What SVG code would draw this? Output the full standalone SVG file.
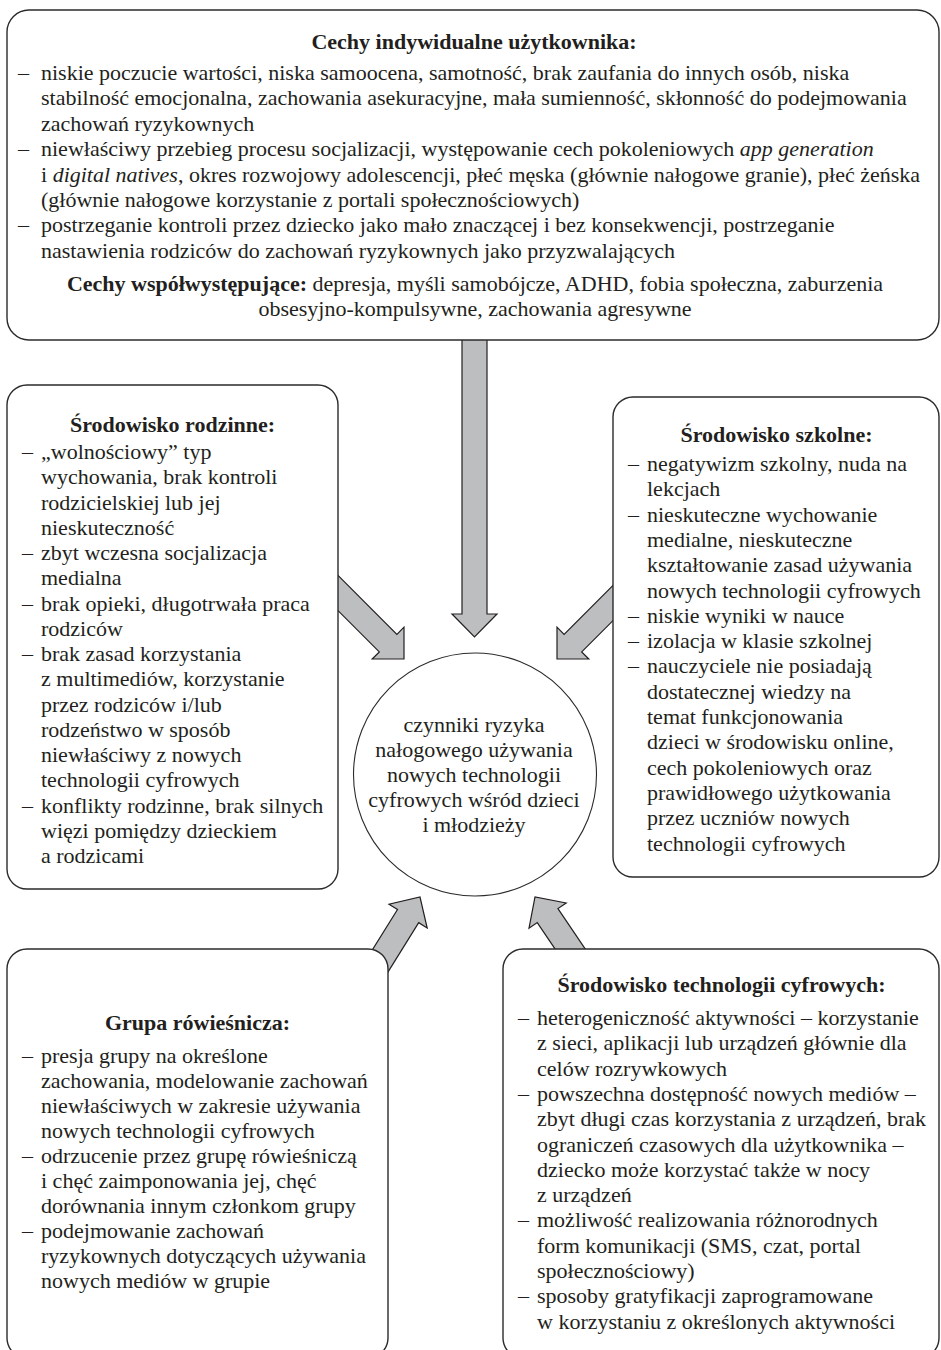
<svg xmlns="http://www.w3.org/2000/svg" width="941" height="1350" viewBox="0 0 941 1350">
<style>
.box{fill:#ffffff;stroke:#2b2b2b;stroke-width:1.4}
.circ{fill:#ffffff;stroke:#2b2b2b;stroke-width:1.1}
.arr{fill:#bcbec0;stroke:#231f20;stroke-width:1.2;stroke-linejoin:miter}
text{font-family:"Liberation Serif","Times New Roman",serif;font-size:22px;fill:#231f20}
.t{font-weight:bold;text-anchor:middle}
.c{text-anchor:middle}
.b{font-weight:bold}
.i{font-style:italic}
</style>
<rect width="941" height="1350" fill="#ffffff"/>
<g id="connectors">
<polygon class="arr" points="462,335 462,614 452,614 474.5,637 497,614 487,614 487,335"/>
<polygon class="arr" points="330,567.4 396.9,634.3 404,627.2 404,659 372.2,659 379.3,651.9 330,602.6"/>
<polygon class="arr" points="625,573.4 564.1,634.3 557,627.2 557,659 588.8,659 581.7,651.9 625,608.6"/>
<polygon class="arr" points="360.5,968.9 397.5,909.5 389,904.2 420,897 427.2,928 418.7,922.7 381.7,982.1"/>
<polygon class="arr" points="591.6,958.3 557.95,908.6 566.2,903 535,897 529,928.2 537.25,922.6 570.9,972.3"/>
</g>
<g id="node-individual">
<rect class="box" x="7" y="10" width="932" height="330" rx="22" ry="22"/>
<text class="t" x="474" y="49">Cechy indywidualne użytkownika:</text>
<text x="18" y="80">–</text><text x="41" y="80">niskie poczucie wartości, niska samoocena, samotność, brak zaufania do innych osób, niska</text>
<text x="41" y="105.4">stabilność emocjonalna, zachowania asekuracyjne, mała sumienność, skłonność do podejmowania</text>
<text x="41" y="130.8">zachowań ryzykownych</text>
<text x="18" y="156.2">–</text><text x="41" y="156.2">niewłaściwy przebieg procesu socjalizacji, występowanie cech pokoleniowych <tspan class="i">app generation</tspan></text>
<text x="41" y="181.6">i <tspan class="i">digital natives</tspan>, okres rozwojowy adolescencji, płeć męska (głównie nałogowe granie), płeć żeńska</text>
<text x="41" y="207">(głównie nałogowe korzystanie z portali społecznościowych)</text>
<text x="18" y="232.4">–</text><text x="41" y="232.4">postrzeganie kontroli przez dziecko jako mało znaczącej i bez konsekwencji, postrzeganie</text>
<text x="41" y="257.8">nastawienia rodziców do zachowań ryzykownych jako przyzwalających</text>
<text class="c" x="475" y="291"><tspan class="b">Cechy współwystępujące:</tspan> depresja, myśli samobójcze, ADHD, fobia społeczna, zaburzenia</text>
<text class="c" x="475" y="316">obsesyjno-kompulsywne, zachowania agresywne</text>
</g>
<g id="node-family">
<rect class="box" x="7" y="385" width="331" height="504" rx="20" ry="20"/>
<text class="t" x="172.5" y="432">Środowisko rodzinne:</text>
<text x="22" y="459">–</text><text x="41" y="459">„wolnościowy” typ</text>
<text x="41" y="484.25">wychowania, brak kontroli</text>
<text x="41" y="509.5">rodzicielskiej lub jej</text>
<text x="41" y="534.75">nieskuteczność</text>
<text x="22" y="560">–</text><text x="41" y="560">zbyt wczesna socjalizacja</text>
<text x="41" y="585.25">medialna</text>
<text x="22" y="610.5">–</text><text x="41" y="610.5">brak opieki, długotrwała praca</text>
<text x="41" y="635.75">rodziców</text>
<text x="22" y="661">–</text><text x="41" y="661">brak zasad korzystania</text>
<text x="41" y="686.25">z multimediów, korzystanie</text>
<text x="41" y="711.5">przez rodziców i/lub</text>
<text x="41" y="736.75">rodzeństwo w sposób</text>
<text x="41" y="762">niewłaściwy z nowych</text>
<text x="41" y="787.25">technologii cyfrowych</text>
<text x="22" y="812.5">–</text><text x="41" y="812.5">konflikty rodzinne, brak silnych</text>
<text x="41" y="837.75">więzi pomiędzy dzieckiem</text>
<text x="41" y="863">a rodzicami</text>
</g>
<g id="node-school">
<rect class="box" x="613" y="397" width="326" height="480" rx="20" ry="20"/>
<text class="t" x="776.5" y="442">Środowisko szkolne:</text>
<text x="628" y="471">–</text><text x="647" y="471">negatywizm szkolny, nuda na</text>
<text x="647" y="496.3">lekcjach</text>
<text x="628" y="521.6">–</text><text x="647" y="521.6">nieskuteczne wychowanie</text>
<text x="647" y="546.9">medialne, nieskuteczne</text>
<text x="647" y="572.2">kształtowanie zasad używania</text>
<text x="647" y="597.5">nowych technologii cyfrowych</text>
<text x="628" y="622.8">–</text><text x="647" y="622.8">niskie wyniki w nauce</text>
<text x="628" y="648.1">–</text><text x="647" y="648.1">izolacja w klasie szkolnej</text>
<text x="628" y="673.4">–</text><text x="647" y="673.4">nauczyciele nie posiadają</text>
<text x="647" y="698.7">dostatecznej wiedzy na</text>
<text x="647" y="724">temat funkcjonowania</text>
<text x="647" y="749.3">dzieci w środowisku online,</text>
<text x="647" y="774.6">cech pokoleniowych oraz</text>
<text x="647" y="799.9">prawidłowego użytkowania</text>
<text x="647" y="825.2">przez uczniów nowych</text>
<text x="647" y="850.5">technologii cyfrowych</text>
</g>
<g id="node-center">
<circle class="circ" cx="475" cy="774.5" r="121.5"/>
<text class="c" x="474" y="732">czynniki ryzyka</text>
<text class="c" x="474" y="757">nałogowego używania</text>
<text class="c" x="474" y="782">nowych technologii</text>
<text class="c" x="474" y="807">cyfrowych wśród dzieci</text>
<text class="c" x="474" y="832">i młodzieży</text>
</g>
<g id="node-peers">
<rect class="box" x="7" y="949" width="381" height="409" rx="20" ry="20"/>
<text class="t" x="197.5" y="1030">Grupa rówieśnicza:</text>
<text x="22" y="1063">–</text><text x="41" y="1063">presja grupy na określone</text>
<text x="41" y="1088">zachowania, modelowanie zachowań</text>
<text x="41" y="1113">niewłaściwych w zakresie używania</text>
<text x="41" y="1138">nowych technologii cyfrowych</text>
<text x="22" y="1163">–</text><text x="41" y="1163">odrzucenie przez grupę rówieśniczą</text>
<text x="41" y="1188">i chęć zaimponowania jej, chęć</text>
<text x="41" y="1213">dorównania innym członkom grupy</text>
<text x="22" y="1238">–</text><text x="41" y="1238">podejmowanie zachowań</text>
<text x="41" y="1263">ryzykownych dotyczących używania</text>
<text x="41" y="1288">nowych mediów w grupie</text>
</g>
<g id="node-digital">
<rect class="box" x="503" y="949" width="436" height="409" rx="20" ry="20"/>
<text class="t" x="721.5" y="992">Środowisko technologii cyfrowych:</text>
<text x="518" y="1025">–</text><text x="537" y="1025">heterogeniczność aktywności – korzystanie</text>
<text x="537" y="1050.3">z sieci, aplikacji lub urządzeń głównie dla</text>
<text x="537" y="1075.6">celów rozrywkowych</text>
<text x="518" y="1100.9">–</text><text x="537" y="1100.9">powszechna dostępność nowych mediów –</text>
<text x="537" y="1126.2">zbyt długi czas korzystania z urządzeń, brak</text>
<text x="537" y="1151.5">ograniczeń czasowych dla użytkownika –</text>
<text x="537" y="1176.8">dziecko może korzystać także w nocy</text>
<text x="537" y="1202.1">z urządzeń</text>
<text x="518" y="1227.4">–</text><text x="537" y="1227.4">możliwość realizowania różnorodnych</text>
<text x="537" y="1252.7">form komunikacji (SMS, czat, portal</text>
<text x="537" y="1278">społecznościowy)</text>
<text x="518" y="1303.3">–</text><text x="537" y="1303.3">sposoby gratyfikacji zaprogramowane</text>
<text x="537" y="1328.6">w korzystaniu z określonych aktywności</text>
</g>
</svg>
